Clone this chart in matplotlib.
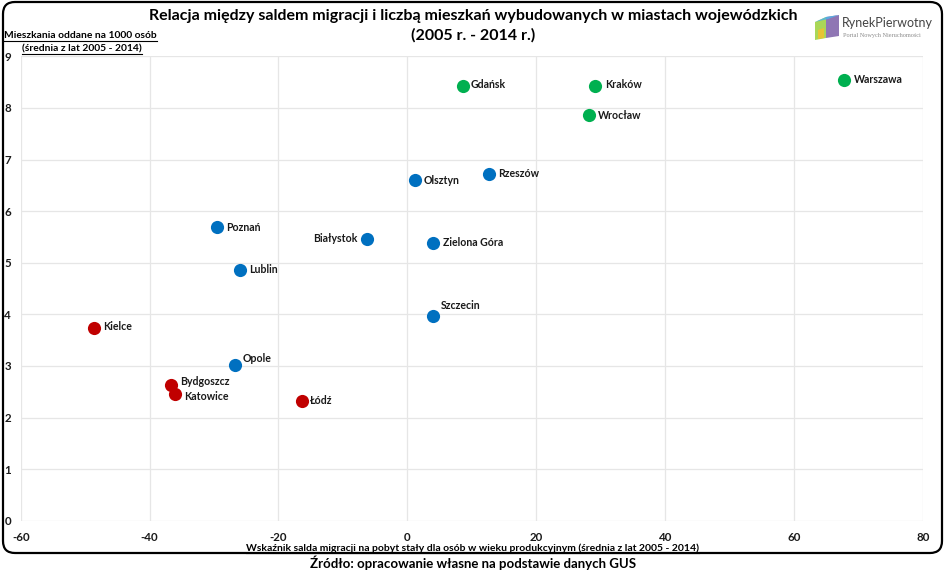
import matplotlib
matplotlib.use('Agg')
import matplotlib.pyplot as plt
from matplotlib.patches import FancyBboxPatch, Polygon
from matplotlib.lines import Line2D

# data
cities = ['Warszawa', 'Kraków', 'Gdańsk', 'Wrocław', 'Rzeszów', 'Olsztyn',
          'Poznań', 'Białystok', 'Zielona Góra', 'Lublin', 'Szczecin',
          'Opole', 'Kielce', 'Bydgoszcz', 'Katowice', 'Łódź']
migr = [67.8, 29.1, 8.6, 28.1, 12.7, 1.2,
        -29.6, -6.2, 4.0, -26.0, 4.0,
        -26.8, -48.6, -36.7, -36.1, -16.3]
flats = [8.54, 8.43, 8.43, 7.86, 6.72, 6.60,
         5.69, 5.47, 5.38, 4.87, 3.97,
         3.01, 3.74, 2.63, 2.45, 2.32]
group = ['g', 'g', 'g', 'g', 'b', 'b',
         'b', 'b', 'b', 'b', 'b',
         'b', 'r', 'r', 'r', 'r']
colors = {'g': '#00B050', 'b': '#0070C0', 'r': '#C00000'}

# label offsets in pixels (dx, dy), negative dx -> label to the left
offsets = {'Warszawa': (10, 1), 'Kraków': (10, 1), 'Gdańsk': (8, 1),
           'Wrocław': (9, 0), 'Rzeszów': (9, 1), 'Olsztyn': (8, 0),
           'Poznań': (9, 0), 'Białystok': (-10, 0), 'Zielona Góra': (10, 1),
           'Lublin': (9, 0), 'Szczecin': (8, 10), 'Opole': (8, 7),
           'Kielce': (9, 1), 'Bydgoszcz': (9, 4), 'Katowice': (9, -2),
           'Łódź': (8, 1)}

W, H = 945, 571
plt.rcParams['font.family'] = ['Lato', 'DejaVu Sans']
plt.rcParams['axes.unicode_minus'] = False

fig = plt.figure(figsize=(W / 100, H / 100), dpi=100)
ax = fig.add_axes([20.7 / W, 1 - 520.8 / H, (923 - 20.7) / W, (520.8 - 56.4) / H])

for x, y, g, c in zip(migr, flats, group, cities):
    ax.scatter(x, y, s=90, color=colors[g], zorder=3, linewidths=0)
    dx, dy = offsets[c]
    ax.annotate(c, (x, y), xytext=(dx, dy), textcoords='offset pixels',
                ha='left' if dx > 0 else 'right', va='center',
                fontsize=7.6, fontweight='bold', color='#1a1a1a')

ax.set_xlim(-60, 80)
ax.set_ylim(0, 9)
ax.set_xticks(range(-60, 81, 20))
ax.set_yticks(range(0, 10))
ax.grid(True, color='#e6e6e6', lw=0.9)
ax.set_axisbelow(True)
for s in ax.spines.values():
    s.set_visible(False)
ax.tick_params(length=0, labelsize=8.3, colors='#1a1a1a')
ax.tick_params(axis='x', pad=8)
ax.tick_params(axis='y', pad=7)
for lab in ax.get_xticklabels() + ax.get_yticklabels():
    lab.set_fontweight('bold')

# rounded chart border
fig.patches.append(FancyBboxPatch((0.03, 0.18), 9.39, 5.51,
                                  boxstyle='round,pad=0,rounding_size=0.12',
                                  transform=fig.dpi_scale_trans, fill=False,
                                  ec='black', lw=1.6))

def px(x, y):
    return x / W, 1 - y / H

fig.text(*px(473, 16), 'Relacja między saldem migracji i liczbą mieszkań wybudowanych w miastach wojewódzkich',
         ha='center', va='center', fontsize=11.5, fontweight='bold')
fig.text(*px(473, 35), '(2005 r. - 2014 r.)', ha='center', va='center',
         fontsize=11.5, fontweight='bold')

under = []
under.append(fig.text(*px(4, 35.5), 'Mieszkania oddane na 1000 osób', ha='left', va='center',
                      fontsize=7.4, fontweight='bold'))
under.append(fig.text(*px(22, 49), '(średnia z lat 2005 - 2014)', ha='left', va='center',
                      fontsize=7.4, fontweight='bold'))
under.append(fig.text(*px(473, 548), 'Wskaźnik salda migracji na pobyt stały dla osób w wieku produkcyjnym (średnia z lat 2005 - 2014)',
                      ha='center', va='center', fontsize=7.45, fontweight='bold'))
fig.text(*px(473, 563), 'Źródło: opracowanie własne na podstawie danych GUS', ha='center', va='center',
         fontsize=9.5, fontweight='bold')

# logo
icon = [([815, 826, 826, 815], [22, 17, 38, 40], '#9bd13a'),
        ([826, 839, 839, 826], [17, 15, 36, 38], '#7b5ea7'),
        ([815, 826, 839, 828], [22, 17, 15, 19], '#4fb3e8'),
        ([818, 824, 824, 818], [30, 28, 38, 39], '#f2c12e')]
for xs, ys, col in icon:
    fig.patches.append(Polygon([px(a, b) for a, b in zip(xs, ys)], closed=True,
                               transform=fig.transFigure, fc=col, ec='none', alpha=0.85))
fig.text(*px(842, 23), 'RynekPierwotny', ha='left', va='center', fontsize=9, color='#444444')
fig.text(*px(843, 35), 'Portal Nowych Nieruchomości', ha='left', va='center', fontsize=4.5,
         color='#8a8a8a', family=['Liberation Serif', 'DejaVu Serif'])

fig.canvas.draw()
r = fig.canvas.get_renderer()
for t in under:
    bb = t.get_window_extent(r)
    yl = bb.y0 - 0.5
    fig.add_artist(Line2D([bb.x0 / W, bb.x1 / W], [yl / H, yl / H],
                          transform=fig.transFigure, color='black', lw=0.8))

fig.savefig('out.png', dpi=100)
